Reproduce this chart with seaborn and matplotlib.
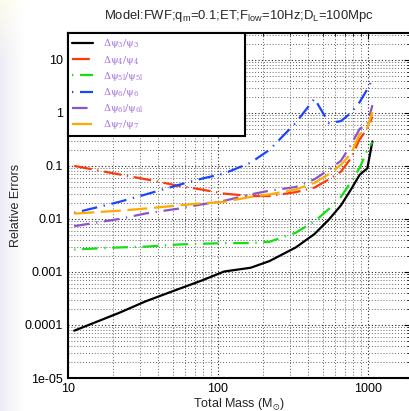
import numpy as np
import pandas as pd
import seaborn as sns
import matplotlib
matplotlib.use("Agg")
import matplotlib.pyplot as plt
from matplotlib.ticker import FixedLocator, LogLocator, NullFormatter
from matplotlib.font_manager import FontProperties

# ---- data ----
mass = [11, 22, 33, 55, 77, 110, 165, 220, 330, 440, 550, 660, 770, 880, 990, 1070]
err_psi3 = [7.8e-5, 1.7e-4, 2.8e-4, 4.8e-4, 6.8e-4, 0.00102, 0.0012, 0.0016, 0.0029, 0.0052,
            0.0098, 0.018, 0.036, 0.068, 0.09, 0.29]
err_psi4 = [0.10, 0.069, 0.056, 0.042, 0.036, 0.030, 0.027, 0.027, 0.032, 0.039,
            0.056, 0.078, 0.14, 0.32, 0.50, 0.85]
err_psi5l = [0.00265, 0.0029, 0.0030, 0.0033, 0.0034, 0.0035, 0.0035, 0.0037, 0.0055, 0.009,
             0.0155, 0.026, 0.05, 0.092, 0.2, 0.28]
err_psi6 = [0.013, 0.021, 0.029, 0.044, 0.057, 0.072, 0.115, 0.2, 0.65, 1.85,
            0.64, 0.70, 1.0, 1.6, 2.8, 4.3]
err_psi6l = [0.0073, 0.0100, 0.0127, 0.0157, 0.0187, 0.022, 0.029, 0.034, 0.040, 0.056,
             0.085, 0.125, 0.25, 0.5, 0.6, 1.4]
err_psi7 = [0.0126, 0.0143, 0.0157, 0.018, 0.0196, 0.021, 0.026, 0.029, 0.036, 0.048,
            0.07, 0.105, 0.17, 0.40, 0.52, 1.05]

labels = [r'$\Delta\psi_3/\psi_3$', r'$\Delta\psi_4/\psi_4$', r'$\Delta\psi_{5l}/\psi_{5l}$',
          r'$\Delta\psi_6/\psi_6$', r'$\Delta\psi_{6l}/\psi_{6l}$', r'$\Delta\psi_7/\psi_7$']
series = [err_psi3, err_psi4, err_psi5l, err_psi6, err_psi6l, err_psi7]
colors = ['#000000', '#ff3a0a', '#11e011', '#1a44ff', '#8a55cc', '#ffaa00']
dash_styles = [None, (8, 2.5, 0.6, 2.5), (0.6, 3, 7, 3), (0.6, 3, 7, 3), (7, 3, 0.6, 3), (9, 3)]

ytick_vals = [1e-5, 1e-4, 1e-3, 1e-2, 1e-1, 1, 10]
ytick_labels = ['1e-05', '0.0001', '0.001', '0.01', '0.1', '1', '10']
xtick_vals = [10, 100, 1000]
xtick_labels = ['10', '100', '1000']

sns.set_style("white")
plt.rcParams['font.family'] = ['Liberation Sans', 'DejaVu Sans']
plt.rcParams['mathtext.default'] = 'regular'

W, H = 409, 411
fig = plt.figure(figsize=(W / 100, H / 100), dpi=100)
fig.patch.set_facecolor('white')

# soft background tint on the left/top edge
bg = fig.add_axes([0, 0, 1, 1], zorder=-10)
yy, xx = np.mgrid[0:H, 0:W]
fade = np.clip(1 - xx / 24.0, 0, 1)
top = np.clip(1 - yy / 60.0, 0, 1)
lav = np.array([0.93, 0.93, 0.965])
cream = np.array([0.995, 0.985, 0.92])
base = top[..., None] * cream + (1 - top[..., None]) * lav
img = fade[..., None] * base + (1 - fade[..., None]) * np.ones(3)
bg.imshow(img, aspect='auto', extent=[0, 1, 0, 1])
bg.axis('off')

L, R, T, B = 68, 410, 33, 378
ax = fig.add_axes([L / W, 1 - B / H, (R - L) / W, (B - T) / H])

df_rows = []
for lab, vals in zip(labels, series):
    for m, v in zip(mass, vals):
        df_rows.append({'mass': m, 'err': v, 'series': lab})
df = pd.DataFrame(df_rows)

for lab, col, ds in zip(labels, colors, dash_styles):
    sub = df[df['series'] == lab]
    sns.lineplot(data=sub, x='mass', y='err', ax=ax, color=col, linewidth=1.6,
                 label=lab, estimator=None, sort=False)
    ln = ax.lines[-1]
    if ds is not None:
        ln.set_dashes(ds)
    ln.set_dash_capstyle('butt')

ax.set_xscale('log')
ax.set_yscale('log')
ax.set_xlim(10, 10 ** (1 + (R - L) / 150.0))
ax.set_ylim(1e-5, 10 ** (1 + (60 - T) / 53.3))

ax.xaxis.set_major_locator(FixedLocator(xtick_vals))
ax.set_xticklabels(xtick_labels)
ax.yaxis.set_major_locator(FixedLocator(ytick_vals))
ax.set_yticklabels(ytick_labels)
ax.xaxis.set_minor_locator(LogLocator(base=10, subs=np.arange(2, 10), numticks=20))
ax.yaxis.set_minor_locator(LogLocator(base=10, subs=np.arange(2, 10), numticks=20))
ax.xaxis.set_minor_formatter(NullFormatter())
ax.yaxis.set_minor_formatter(NullFormatter())

ax.grid(True, which='major', linestyle=(0, (1, 2)), color='#222222', linewidth=0.8)
ax.grid(True, which='minor', linestyle=(0, (1, 2)), color='#666666', linewidth=0.7)
ax.tick_params(axis='both', which='both', direction='in', top=True, right=True,
               labelsize=9, colors='black')
ax.tick_params(which='major', length=4, width=0.8)
ax.tick_params(which='minor', length=2, width=0.6)
for sp in ax.spines.values():
    sp.set_color('black')
    sp.set_linewidth(1.5)
ax.spines['right'].set_visible(False)

ax.set_xlabel(r'Total Mass (M$_{\odot}$)', fontsize=9, labelpad=1)
ax.set_ylabel('Relative Errors', fontsize=9, labelpad=2)
ax.set_title(r'Model:FWF;q$_{m}$=0.1;ET;F$_{low}$=10Hz;D$_{L}$=100Mpc', fontsize=9.4, pad=10)

leg_prop = FontProperties(family='DejaVu Serif', size=7, math_fontfamily='stix')
leg = ax.legend(loc='upper left', bbox_to_anchor=(0, 1, (245 - L) / (R - L), 0), mode='expand',
                prop=leg_prop, frameon=True, fancybox=False, framealpha=1,
                borderaxespad=0, handlelength=2.1, handletextpad=1.0, labelspacing=0.33,
                borderpad=0.45)
leg.get_frame().set_edgecolor('black')
leg.get_frame().set_linewidth(1.5)
for t in leg.get_texts():
    t.set_color('#a070e0')

fig.savefig('out.png', dpi=100)
